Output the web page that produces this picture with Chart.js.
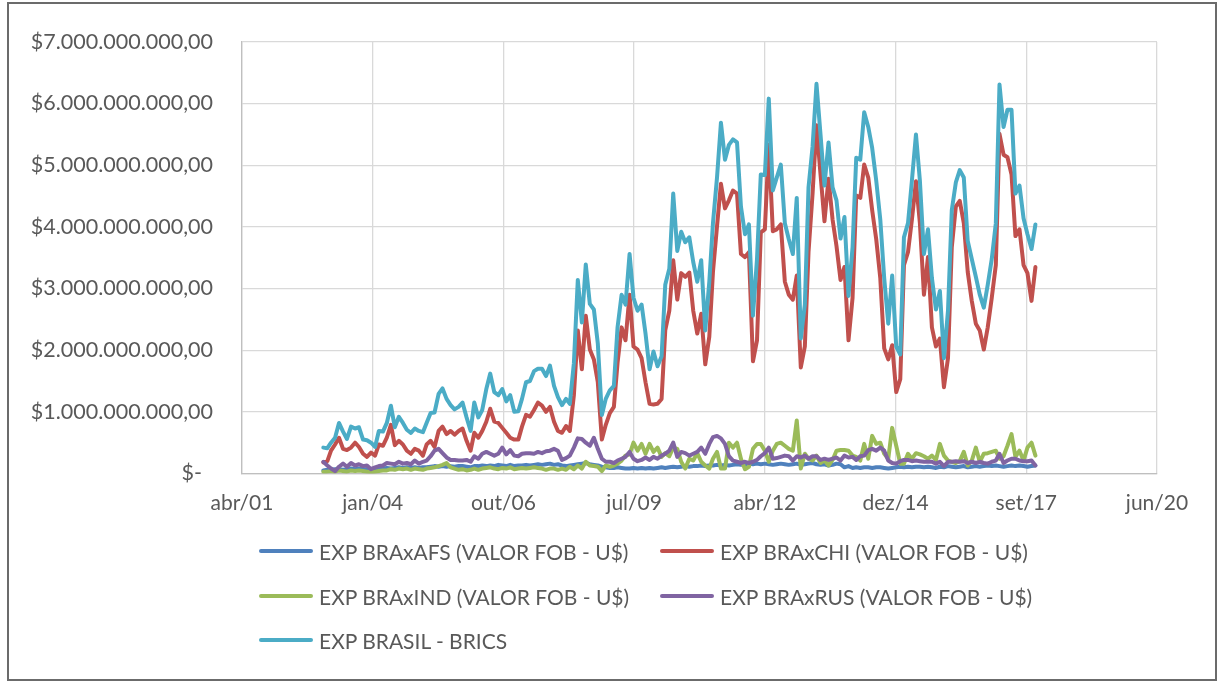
<!DOCTYPE html>
<html>
<head>
<meta charset="utf-8">
<script src="https://cdn.jsdelivr.net/npm/chart.js@4"></script>
<style>
html,body{margin:0;padding:0;background:#fff;}
#wrap{position:relative;width:1219px;height:682px;overflow:hidden;background:#fff;font-family:Lato,"Open Sans",sans-serif;}
#frame{position:absolute;left:7px;top:2px;width:1210px;height:679px;border:2px solid #6b6b6b;box-sizing:border-box;}
#c{position:absolute;left:0;top:0;}
.lg{position:absolute;height:30px;display:flex;align-items:center;color:#595959;font-size:21px;white-space:nowrap;}
.lg i{display:inline-block;width:54px;height:4px;border-radius:2px;margin-right:6px;}
</style>
</head>
<body>
<div id="wrap">
  <div id="frame"></div>
  <canvas id="c" width="1219" height="682"></canvas>
  <div id="legend"></div>
</div>
<script>
// Categories: monthly, Jan/2003 to Dec/2017 (180 months)
const startYear = 2003;
const monthCount = 180;
const monthAbbr = ['jan','fev','mar','abr','mai','jun','jul','ago','set','out','nov','dez'];
// X axis ticks (Excel serial dates), every 1000 days
const xTickMin = 37000, xTickMax = 44000, xTickStep = 1000;
// Y axis ticks in billions of US$
const yTicks = [0,1,2,3,4,5,6,7];

const seriesNames = [
  'EXP BRAxAFS (VALOR FOB - U$)',
  'EXP BRAxCHI (VALOR FOB - U$)',
  'EXP BRAxIND (VALOR FOB - U$)',
  'EXP BRAxRUS (VALOR FOB - U$)',
  'EXP BRASIL - BRICS'
];
const seriesColors = ['#4F81BD','#C0504D','#9BBB59','#8064A2','#4BACC6'];

// Values in billions of US$
const expAFS = [
0.05,0.06,0.06,0.07,0.07,0.06,0.07,0.08,0.07,0.08,0.07,0.07,
0.06,0.07,0.08,0.08,0.09,0.08,0.09,0.10,0.09,0.10,0.09,0.10,
0.09,0.10,0.10,0.11,0.12,0.11,0.12,0.11,0.12,0.11,0.12,0.12,
0.11,0.10,0.12,0.12,0.13,0.12,0.13,0.12,0.14,0.13,0.12,0.14,
0.12,0.13,0.13,0.14,0.13,0.14,0.15,0.14,0.15,0.16,0.14,0.15,
0.13,0.12,0.13,0.14,0.15,0.16,0.17,0.15,0.14,0.13,0.11,0.10,
0.09,0.09,0.10,0.09,0.08,0.08,0.09,0.08,0.09,0.08,0.09,0.08,
0.09,0.10,0.09,0.10,0.11,0.10,0.11,0.12,0.11,0.12,0.12,0.13,
0.12,0.13,0.13,0.14,0.13,0.14,0.13,0.14,0.15,0.14,0.15,0.16,
0.15,0.16,0.15,0.16,0.15,0.14,0.15,0.16,0.15,0.14,0.15,0.16,
0.14,0.15,0.16,0.17,0.15,0.14,0.15,0.13,0.14,0.16,0.15,0.10,
0.12,0.09,0.10,0.09,0.10,0.10,0.09,0.10,0.10,0.09,0.08,0.09,
0.10,0.11,0.10,0.11,0.10,0.11,0.11,0.10,0.11,0.10,0.09,0.11,
0.10,0.12,0.11,0.10,0.11,0.12,0.10,0.11,0.12,0.11,0.12,0.13,
0.12,0.13,0.12,0.11,0.12,0.13,0.12,0.13,0.12,0.11,0.12,0.13
];
const expCHI = [
0.18,0.20,0.37,0.47,0.58,0.40,0.38,0.42,0.50,0.43,0.32,0.27,
0.34,0.29,0.47,0.45,0.58,0.79,0.46,0.53,0.47,0.37,0.32,0.40,
0.37,0.29,0.47,0.53,0.43,0.69,0.76,0.64,0.69,0.63,0.69,0.73,
0.53,0.37,0.66,0.58,0.69,0.84,1.05,0.84,0.82,0.74,0.66,0.58,
0.55,0.55,0.76,0.95,0.92,1.03,1.15,1.10,1.00,1.08,0.84,0.69,
0.66,0.77,0.69,1.27,2.32,1.69,2.56,2.01,1.85,1.48,0.55,0.79,
0.98,1.08,1.79,2.37,2.16,2.90,2.06,2.01,1.87,1.48,1.13,1.12,
1.13,1.21,2.32,2.64,3.46,2.82,3.25,3.19,3.26,2.64,2.27,2.59,
1.77,2.22,3.27,4.01,4.70,4.30,4.43,4.59,4.54,3.56,3.51,3.59,
1.82,2.16,3.91,3.96,5.33,3.93,3.96,4.04,3.11,2.90,2.82,3.21,
1.72,2.06,3.59,4.54,5.65,4.85,4.09,4.78,4.12,3.69,3.14,3.35,
2.16,2.85,4.51,4.47,5.01,4.80,4.27,3.80,3.17,2.03,1.85,2.08,
1.32,1.53,3.38,3.59,4.12,4.74,4.06,2.90,3.51,2.37,2.06,2.19,
1.40,1.87,3.67,4.33,4.42,4.06,3.27,2.80,2.43,2.32,2.01,2.37,
2.85,3.38,5.51,5.17,5.13,4.85,3.85,3.96,3.38,3.25,2.80,3.35
];
const expIND = [
0.03,0.03,0.04,0.03,0.05,0.04,0.03,0.05,0.04,0.05,0.04,0.03,
0.02,0.03,0.04,0.05,0.05,0.07,0.06,0.08,0.07,0.08,0.06,0.08,
0.07,0.06,0.08,0.09,0.10,0.12,0.14,0.17,0.10,0.08,0.06,0.07,
0.05,0.06,0.08,0.06,0.08,0.09,0.10,0.08,0.07,0.09,0.08,0.10,
0.07,0.08,0.09,0.08,0.09,0.10,0.09,0.08,0.06,0.08,0.08,0.06,
0.08,0.06,0.11,0.07,0.13,0.08,0.19,0.13,0.12,0.11,0.04,0.13,
0.11,0.13,0.16,0.21,0.29,0.31,0.50,0.37,0.48,0.32,0.48,0.35,
0.42,0.27,0.33,0.28,0.42,0.40,0.19,0.08,0.24,0.21,0.33,0.19,
0.13,0.08,0.24,0.35,0.08,0.08,0.50,0.42,0.50,0.24,0.07,0.11,
0.40,0.48,0.48,0.37,0.19,0.37,0.48,0.50,0.45,0.40,0.37,0.86,
0.08,0.32,0.24,0.21,0.29,0.17,0.21,0.13,0.22,0.37,0.38,0.38,
0.37,0.29,0.27,0.21,0.48,0.24,0.61,0.48,0.50,0.32,0.24,0.74,
0.45,0.16,0.16,0.32,0.24,0.33,0.31,0.28,0.24,0.29,0.22,0.48,
0.29,0.21,0.19,0.17,0.20,0.35,0.13,0.21,0.42,0.19,0.32,0.33,
0.35,0.37,0.24,0.28,0.45,0.64,0.27,0.37,0.21,0.42,0.50,0.29
];
const expRUS = [
0.19,0.13,0.08,0.04,0.11,0.16,0.11,0.17,0.13,0.15,0.12,0.13,
0.07,0.10,0.12,0.13,0.17,0.16,0.15,0.19,0.16,0.17,0.15,0.21,
0.16,0.19,0.21,0.28,0.37,0.40,0.33,0.26,0.22,0.22,0.21,0.21,
0.22,0.19,0.28,0.24,0.32,0.35,0.32,0.29,0.32,0.42,0.31,0.38,
0.29,0.28,0.32,0.33,0.33,0.32,0.35,0.33,0.36,0.37,0.40,0.37,
0.22,0.25,0.29,0.42,0.57,0.56,0.50,0.45,0.58,0.40,0.24,0.19,
0.19,0.17,0.21,0.24,0.27,0.35,0.24,0.20,0.22,0.26,0.22,0.27,
0.24,0.29,0.32,0.37,0.50,0.27,0.35,0.33,0.29,0.32,0.35,0.42,
0.32,0.48,0.59,0.61,0.57,0.48,0.28,0.21,0.19,0.17,0.19,0.17,
0.19,0.22,0.28,0.33,0.42,0.24,0.25,0.27,0.29,0.28,0.21,0.28,
0.26,0.29,0.24,0.28,0.28,0.22,0.24,0.22,0.24,0.26,0.21,0.29,
0.26,0.27,0.22,0.28,0.29,0.38,0.40,0.37,0.42,0.37,0.21,0.17,
0.16,0.20,0.22,0.22,0.20,0.21,0.20,0.19,0.19,0.19,0.16,0.19,
0.12,0.19,0.19,0.20,0.19,0.20,0.17,0.19,0.17,0.19,0.17,0.16,
0.19,0.21,0.32,0.17,0.21,0.24,0.24,0.21,0.20,0.20,0.21,0.13
];
const expBRICS = [
0.42,0.41,0.50,0.58,0.82,0.68,0.56,0.76,0.73,0.75,0.55,0.54,
0.50,0.43,0.69,0.68,0.82,1.10,0.75,0.92,0.82,0.71,0.66,0.73,
0.69,0.67,0.82,0.98,0.99,1.29,1.38,1.21,1.11,1.04,1.08,1.15,
0.91,0.69,1.15,0.91,1.03,1.37,1.62,1.32,1.27,1.37,1.17,1.27,
1.00,1.01,1.21,1.48,1.50,1.66,1.70,1.70,1.58,1.75,1.42,1.24,
1.11,1.21,1.13,1.79,3.14,2.45,3.39,2.75,2.66,2.11,0.95,1.21,
1.35,1.42,2.37,2.90,2.74,3.56,2.85,2.64,2.74,2.27,1.69,1.98,
1.74,1.90,3.06,3.32,4.54,3.61,3.92,3.75,3.83,3.43,3.11,3.46,
2.32,3.11,4.06,4.80,5.69,5.09,5.33,5.42,5.37,4.33,3.88,4.04,
2.56,3.48,4.85,4.84,6.08,4.59,4.80,5.01,4.06,3.80,3.56,4.47,
2.19,2.74,4.64,5.30,6.32,5.49,4.67,5.37,4.64,4.43,3.81,4.16,
2.88,3.67,5.12,5.09,5.86,5.62,5.28,4.75,4.12,3.17,2.43,3.21,
2.06,1.93,3.83,4.06,4.75,5.50,4.75,3.56,3.96,3.17,2.66,2.96,
1.87,2.64,4.27,4.72,4.92,4.80,3.77,3.48,3.19,2.90,2.69,3.06,
3.48,4.06,6.31,5.62,5.90,5.90,4.54,4.67,4.14,3.88,3.64,4.04
];

// Month categories as Excel serial dates (first day of each month)
const excelEpoch = Date.UTC(1899, 11, 30);
const months = [];
for (let k = 0; k < monthCount; k++) {
  const y = startYear + Math.floor(k / 12), m = k % 12;
  months.push((Date.UTC(y, m, 1) - excelEpoch) / 86400000);
}
function serialLabel(s) {
  const d = new Date(excelEpoch + s * 86400000);
  return monthAbbr[d.getUTCMonth()] + '/' + String(d.getUTCFullYear() % 100).padStart(2, '0');
}
function moneyLabel(v) {
  return v === 0 ? '$-  ' : '$' + v + '.000.000.000,00';
}

const allSeries = [expAFS, expCHI, expIND, expRUS, expBRICS];
const drawOrder = [4, 3, 2, 1, 0];
const datasets = allSeries.map((vals, si) => ({
  label: seriesNames[si],
  data: vals.map((v, k) => ({ x: months[k], y: v })),
  borderColor: seriesColors[si],
  backgroundColor: seriesColors[si],
  borderWidth: 4,
  pointRadius: 0,
  tension: 0,
  fill: false,
  borderJoinStyle: 'round',
  borderCapStyle: 'round',
  order: drawOrder[si]
}));

const FONT = 'Lato';
new Chart(document.getElementById('c'), {
  type: 'line',
  data: { datasets },
  options: {
    responsive: false,
    animation: false,
    events: [],
    layout: { padding: { top: 31, right: 62, left: 0, bottom: 0 } },
    plugins: { legend: { display: false }, tooltip: { enabled: false } },
    scales: {
      x: {
        type: 'linear',
        min: xTickMin, max: xTickMax,
        ticks: {
          stepSize: xTickStep,
          callback: v => serialLabel(v),
          color: '#595959',
          font: { family: FONT, size: 21 },
          padding: 17,
          maxRotation: 0, autoSkip: false
        },
        grid: { color: '#D9D9D9', lineWidth: 1.3, drawTicks: false },
        border: { color: '#BFBFBF', width: 1.3 },
        afterFit: s => { s.height = 682 - 473.5; }
      },
      y: {
        min: 0, max: 7,
        afterBuildTicks: s => { s.ticks = yTicks.map(v => ({ value: v })); },
        ticks: {
          callback: v => moneyLabel(v),
          color: '#595959',
          font: { family: FONT, size: 21.5 },
          padding: 29
        },
        grid: { color: '#D9D9D9', lineWidth: 1.3, drawTicks: false },
        border: { color: '#BFBFBF', width: 1.3 },
        afterFit: s => { s.width = 242; }
      }
    }
  }
});

// Legend (HTML text), two columns
const legendPos = [
  { x: 259, y: 551 }, { x: 660, y: 551 },
  { x: 259, y: 596 }, { x: 660, y: 596 },
  { x: 259, y: 640 }
];
const lg = document.getElementById('legend');
seriesNames.forEach((name, si) => {
  const d = document.createElement('div');
  d.className = 'lg';
  d.style.left = legendPos[si].x + 'px';
  d.style.top = (legendPos[si].y - 15) + 'px';
  const sw = document.createElement('i');
  sw.style.background = seriesColors[si];
  d.appendChild(sw);
  d.appendChild(document.createTextNode(name));
  lg.appendChild(d);
});
</script>
</body>
</html>
